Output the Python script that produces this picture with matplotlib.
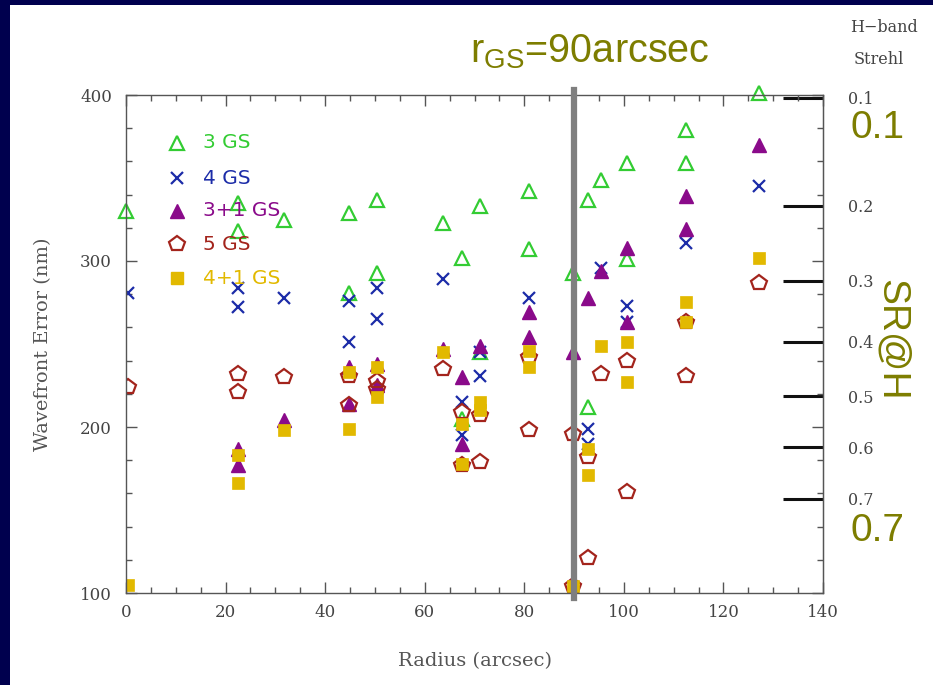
import numpy as np
import matplotlib
matplotlib.use("Agg")
import matplotlib.pyplot as plt
from matplotlib.patches import Rectangle
from matplotlib.ticker import MultipleLocator, NullLocator
from matplotlib.lines import Line2D

# ---------------- data ----------------
gs3_x = [0.0, 22.5, 22.5, 31.7, 44.8, 44.8, 50.4, 50.4, 63.7, 67.5, 67.5, 71.1, 71.1,
         80.9, 80.9, 89.8, 92.8, 92.8, 95.4, 100.6, 100.6, 112.4, 112.4, 127.1]
gs3_y = [330, 335, 318, 325, 329, 281, 337, 293, 323, 302, 205, 333, 245,
         342, 307, 293, 337, 212, 349, 359, 301, 379, 359, 401]

gs4_x = [0.4, 22.5, 22.5, 31.7, 44.8, 44.8, 50.4, 50.4, 63.7, 67.5, 67.5, 71.1, 71.1,
         80.9, 92.8, 92.8, 95.4, 100.6, 100.6, 112.4, 127.1]
gs4_y = [281, 284, 272, 278, 276, 251, 284, 265, 289, 215, 195, 245, 231,
         278, 199, 190, 296, 273, 263, 311, 345]

gs31_x = [22.5, 22.5, 31.7, 44.8, 44.8, 50.4, 50.4, 63.7, 67.5, 67.5, 71.1, 80.9, 80.9,
          89.8, 92.8, 95.4, 100.6, 100.6, 112.4, 112.4, 127.1]
gs31_y = [187, 177, 204, 214, 236, 225, 238, 247, 230, 190, 249, 269, 254,
          245, 278, 294, 308, 263, 339, 319, 370]

gs5_x = [0.4, 22.5, 22.5, 31.7, 44.8, 44.8, 50.4, 50.4, 63.7, 67.5, 67.5, 71.1, 71.1,
         80.9, 80.9, 89.8, 89.8, 92.8, 92.8, 95.4, 100.6, 100.6, 112.4, 112.4, 127.1]
gs5_y = [224, 232, 221, 230, 231, 213, 228, 223, 235, 209, 177, 207, 179,
         242, 198, 196, 104, 182, 121, 232, 240, 161, 231, 263, 287]

gs41_x = [0.4, 22.5, 22.5, 31.7, 44.8, 44.8, 50.4, 50.4, 63.7, 67.5, 67.5, 71.1, 71.1,
          80.9, 80.9, 89.8, 92.8, 92.8, 95.4, 100.6, 100.6, 112.4, 112.4, 127.1]
gs41_y = [105, 183, 166, 198, 233, 199, 236, 218, 245, 202, 178, 215, 210,
          246, 236, 104, 187, 171, 249, 251, 227, 275, 263, 302]

legend_labels = ["3 GS", "4 GS", "3+1 GS", "5 GS", "4+1 GS"]
strehl_ticks = [0.1, 0.2, 0.3, 0.4, 0.5, 0.6, 0.7]
strehl_labels = ["0.1", "0.2", "0.3", "0.4", "0.5", "0.6", "0.7"]
wavelength_nm = 1650.0
r_gs = 90

# ---------------- style ----------------
NAVY = "#00004e"
OLIVE = "#7d7d00"
GREEN = "#33cc33"
BLUE = "#1c2ca8"
PURPLE = "#8a0a8a"
BROWN = "#a3241c"
GOLD = "#e2b900"
TXT = "#444444"
SERIF = ["DejaVu Serif"]

fig = plt.figure(figsize=(9.33, 6.85), dpi=100)
fig.patch.set_facecolor(NAVY)
bg = Rectangle((10 / 933, 0), 1, 1 - 5 / 685, transform=fig.transFigure,
               facecolor="white", edgecolor="none", zorder=-10)
fig.patches.append(bg)

ax = fig.add_axes([126 / 933, 1 - 593 / 685, (823 - 126) / 933, (593 - 95) / 685])
ax.set_facecolor("none")
ax.set_zorder(2)

ms = 10.5
ax.plot(gs3_x, gs3_y, ls="none", marker="^", ms=ms, mfc="none", mec=GREEN, mew=1.6, clip_on=False)
ax.plot(gs4_x, gs4_y, ls="none", marker="x", ms=8.5, mec=BLUE, mew=1.6)
ax.plot(gs31_x, gs31_y, ls="none", marker="^", ms=ms, mfc=PURPLE, mec=PURPLE, mew=1)
ax.plot(gs5_x, gs5_y, ls="none", marker="p", ms=ms + 1, mfc="none", mec=BROWN, mew=1.6)
ax.plot(gs41_x, gs41_y, ls="none", marker="s", ms=8.5, mfc=GOLD, mec=GOLD, mew=0.5)

ax.set_xlim(0, 140)
ax.set_ylim(100, 400)
ax.xaxis.set_major_locator(MultipleLocator(20))
ax.xaxis.set_minor_locator(MultipleLocator(5))
ax.yaxis.set_major_locator(MultipleLocator(100))
ax.yaxis.set_minor_locator(MultipleLocator(20))
ax.tick_params(which="both", direction="in", top=True, right=True, colors="#555555",
               labelcolor=TXT, labelsize=12, width=1)
ax.tick_params(which="major", length=8)
ax.tick_params(axis="x", which="major", pad=8)
ax.tick_params(axis="y", which="major", pad=10)
ax.tick_params(which="minor", length=4)
for lab in ax.get_xticklabels() + ax.get_yticklabels():
    lab.set_family(SERIF)
for s in ax.spines.values():
    s.set_color("#555555")
    s.set_linewidth(1)

ax.set_xlabel("Radius (arcsec)", family=SERIF, fontsize=14, color="#555555", labelpad=22)
ax.set_ylabel("Wavefront Error (nm)", family=SERIF, fontsize=14, color="#555555", labelpad=20)

# vertical line at r_GS
ax.axvline(r_gs, ymin=-0.01, ymax=1.01, color="#7f7f7f", lw=4.5, clip_on=False, zorder=5)

# legend (drawn manually)
markers = [dict(marker="^", mfc="none", mec=GREEN, mew=1.6, ms=ms),
           dict(marker="x", mec=BLUE, mew=1.6, ms=8.5),
           dict(marker="^", mfc=PURPLE, mec=PURPLE, ms=ms),
           dict(marker="p", mfc="none", mec=BROWN, mew=1.6, ms=ms + 1),
           dict(marker="s", mfc=GOLD, mec=GOLD, ms=8.5)]
colors = [GREEN, BLUE, PURPLE, BROWN, GOLD]
row_px = [143, 178, 211, 244, 278]
for lab, mk, c, py in zip(legend_labels, markers, colors, row_px):
    yf = 1 - py / 685
    fig.add_artist(Line2D([177 / 933], [yf], transform=fig.transFigure, ls="none", zorder=3, **mk))
    fig.text(203 / 933, yf, lab, color=c, fontsize=14.5, va="center", ha="left",
             family=["DejaVu Sans"], zorder=3)

# Strehl secondary axis
def wfe_to_sr(w):
    w = np.asarray(w, dtype=float)
    return np.exp(-(2 * np.pi * w / wavelength_nm) ** 2)

def sr_to_wfe(s):
    s = np.clip(np.asarray(s, dtype=float), 1e-12, 1.0)
    return wavelength_nm / (2 * np.pi) * np.sqrt(-np.log(s))

sec = ax.secondary_yaxis("right", functions=(wfe_to_sr, sr_to_wfe))
sec.set_yticks(strehl_ticks, strehl_labels)
sec.yaxis.set_minor_locator(NullLocator())
sec.tick_params(direction="in", length=29, width=2.2, color="#111111", pad=18,
                labelsize=11.5, labelcolor=TXT)
for lab in sec.get_yticklabels():
    lab.set_family(SERIF)
sec.spines["right"].set_color("#555555")

fig.text(884 / 933, 1 - 28 / 685, "H\u2212band", family=SERIF, fontsize=11.5, color=TXT,
         ha="center", va="center")
fig.text(879 / 933, 1 - 60 / 685, "Strehl", family=SERIF, fontsize=11.5, color=TXT,
         ha="center", va="center")

# olive annotations
narrow = ["Liberation Sans Narrow", "Liberation Sans", "DejaVu Sans"]
fig.text(590 / 933, 1 - 52 / 685, r"r$_{\mathregular{GS}}$=90arcsec", family=narrow,
         fontsize=28.5, color=OLIVE, ha="center", va="center", zorder=4)
fig.text(878 / 933, 1 - 128 / 685, "0.1", family=narrow, fontsize=28, color=OLIVE,
         ha="center", va="center", zorder=4)
fig.text(878 / 933, 1 - 531 / 685, "0.7", family=narrow, fontsize=28, color=OLIVE,
         ha="center", va="center", zorder=4)
fig.text(892 / 933, 1 - 340 / 685, "SR@H", family=narrow, fontsize=28, color=OLIVE,
         ha="center", va="center", rotation=-90, zorder=4)

fig.savefig("out.png", dpi=100, facecolor=fig.get_facecolor())
